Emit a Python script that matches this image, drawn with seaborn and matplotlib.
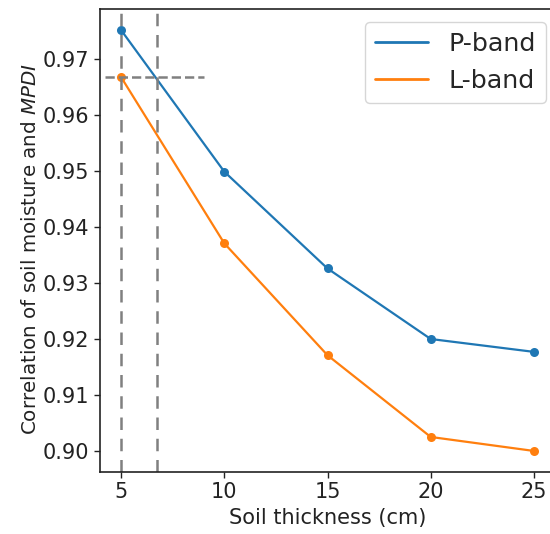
import matplotlib
matplotlib.use("Agg")
import matplotlib.pyplot as plt
import seaborn as sns
import pandas as pd
import numpy as np

thickness = [5, 10, 15, 20, 25]
p_band = [0.9752, 0.9499, 0.9326, 0.9200, 0.9177]
l_band = [0.9668, 0.9371, 0.9171, 0.9025, 0.9000]
series_names = ["P-band", "L-band"]
y_ticks = [0.90, 0.91, 0.92, 0.93, 0.94, 0.95, 0.96, 0.97]
x_ticks = [5, 10, 15, 20, 25]
v_lines = [5, 6.75]
h_line = 0.9668

df = pd.DataFrame({
    "thickness": thickness * 2,
    "corr": p_band + l_band,
    "band": [series_names[0]] * len(thickness) + [series_names[1]] * len(thickness),
})

sns.set_style("ticks")
plt.rcParams["font.family"] = ["DejaVu Sans"]

fig = plt.figure(figsize=(5.5, 5.34), dpi=100)
ax = fig.add_axes([100 / 550, (534 - 472) / 534, (555 - 100) / 550, (472 - 9) / 534])

sns.lineplot(data=df, x="thickness", y="corr", hue="band", marker="o",
             palette=["#1f77b4", "#ff7f0e"], linewidth=1.6, markersize=6.5,
             markeredgewidth=0, ax=ax)

for xv in v_lines:
    ax.axvline(xv, color="gray", linestyle="--", linewidth=1.8, dashes=(5, 3.5))
ax.hlines(h_line, 4.2, 9.0, color="gray", linestyle="--", linewidth=1.8)

ax.set_xlim(3.98, 26.02)
ax.set_ylim(0.89624, 0.97896)
ax.set_xticks(x_ticks)
ax.set_yticks(y_ticks)
ax.set_yticklabels([f"{v:.2f}" for v in y_ticks])
ax.tick_params(labelsize=15, length=4, width=1, colors="#222222")
ax.set_xlabel("Soil thickness (cm)", fontsize=15, color="#222222", labelpad=4)
ax.set_ylabel(r"Correlation of soil moisture and $\mathit{MPDI}$", fontsize=14.3, color="#222222")
ax.yaxis.set_label_coords((40 - 100) / 455, (472 - 249) / 463)
for s in ax.spines.values():
    s.set_color("#222222")
    s.set_linewidth(1.2)

leg = ax.legend(loc="upper right", bbox_to_anchor=(546 / 550, (534 - 22) / 534),
                bbox_transform=fig.transFigure, borderaxespad=0, fontsize=18.3,
                title=None, handlelength=2.1)
for h in leg.get_lines():
    h.set_marker("")
    h.set_linewidth(2)

fig.savefig("out.png", dpi=100)
